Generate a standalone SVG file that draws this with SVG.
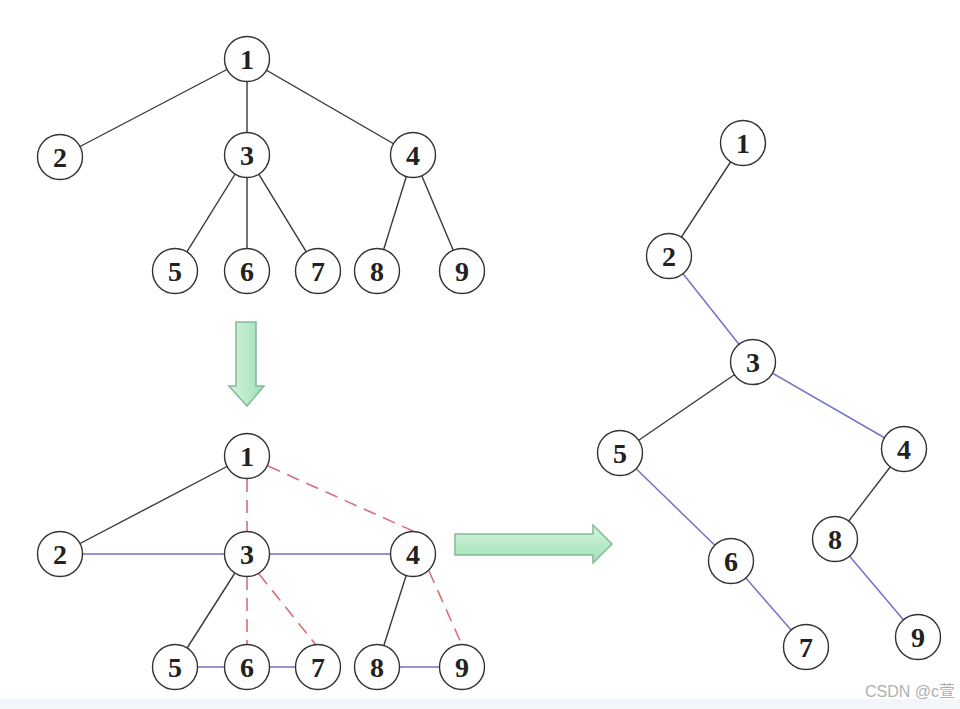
<svg xmlns="http://www.w3.org/2000/svg" width="960" height="709" viewBox="0 0 960 709">
<style>
.n circle{fill:#fff;stroke:#333;stroke-width:1.4}
.n text{font-family:"Liberation Serif","DejaVu Serif",serif;font-size:28px;font-weight:bold;fill:#222;text-anchor:middle;dominant-baseline:central}
.k{stroke:#3a3a3a;stroke-width:1.4;fill:none}
.b{stroke:#7272c8;stroke-width:1.5;fill:none}
.r{stroke:#d86f7c;stroke-width:1.6;stroke-dasharray:13 8;fill:none}
.ga{fill:url(#g);stroke:#86b896;stroke-width:1.5}
</style>
<defs>
<linearGradient id="g" x1="0" y1="0" x2="0" y2="1">
<stop offset="0" stop-color="#d4f5dc"/>
<stop offset="1" stop-color="#9fe0b6"/>
</linearGradient>
<linearGradient id="gv" x1="0" y1="0" x2="1" y2="0">
<stop offset="0" stop-color="#d4f5dc"/>
<stop offset="1" stop-color="#9fe0b6"/>
</linearGradient>
</defs>
<rect width="960" height="709" fill="#fff"/>
<rect x="0" y="699" width="960" height="10" fill="#f2f6fb"/>
<g id="connectors">
<line class="k" x1="247" y1="59" x2="60" y2="157"/>
<line class="k" x1="247" y1="59" x2="247" y2="155"/>
<line class="k" x1="247" y1="59" x2="413" y2="155"/>
<line class="k" x1="247" y1="155" x2="175" y2="271"/>
<line class="k" x1="247" y1="155" x2="247" y2="271"/>
<line class="k" x1="247" y1="155" x2="318" y2="271"/>
<line class="k" x1="413" y1="155" x2="377" y2="271"/>
<line class="k" x1="413" y1="155" x2="462" y2="271"/>
<line class="k" x1="247" y1="456" x2="60" y2="554"/>
<line class="r" x1="247" y1="479" x2="247" y2="531"/>
<line class="r" x1="268" y1="466" x2="413" y2="531"/>
<line class="b" x1="60" y1="554" x2="247" y2="554"/>
<line class="b" x1="247" y1="554" x2="413" y2="554"/>
<line class="k" x1="247" y1="554" x2="175" y2="667"/>
<line class="r" x1="247" y1="577" x2="247" y2="644"/>
<line class="r" x1="259" y1="574" x2="316" y2="645"/>
<line class="k" x1="413" y1="554" x2="377" y2="667"/>
<line class="r" x1="429" y1="571" x2="462" y2="645"/>
<line class="b" x1="175" y1="667" x2="247" y2="667"/>
<line class="b" x1="247" y1="667" x2="318" y2="667"/>
<line class="b" x1="377" y1="667" x2="462" y2="667"/>
<line class="k" x1="743" y1="143" x2="669" y2="256"/>
<line class="b" x1="669" y1="256" x2="753" y2="362"/>
<line class="k" x1="753" y1="362" x2="620" y2="453"/>
<line class="b" x1="753" y1="362" x2="904" y2="449"/>
<line class="b" x1="620" y1="453" x2="731" y2="561"/>
<line class="b" x1="731" y1="561" x2="806" y2="647"/>
<line class="k" x1="904" y1="449" x2="835" y2="539"/>
<line class="b" x1="835" y1="539" x2="918" y2="637"/>
</g>
<g id="arrow-down"><path class="ga" style="fill:url(#gv)" d="M236,322 H256 V386 H264 L247,406 L229,386 H236 Z"/></g>
<g id="arrow-right"><path class="ga" d="M455,534 H593 V525 L612,544 L593,563 V555 H455 Z"/></g>
<g id="t1-1" class="n"><circle cx="247" cy="59" r="22.5"/><text x="247" y="59">1</text></g>
<g id="t1-2" class="n"><circle cx="60" cy="157" r="22.5"/><text x="60" y="157">2</text></g>
<g id="t1-3" class="n"><circle cx="247" cy="155" r="22.5"/><text x="247" y="155">3</text></g>
<g id="t1-4" class="n"><circle cx="413" cy="155" r="22.5"/><text x="413" y="155">4</text></g>
<g id="t1-5" class="n"><circle cx="175" cy="271" r="22.5"/><text x="175" y="271">5</text></g>
<g id="t1-6" class="n"><circle cx="247" cy="271" r="22.5"/><text x="247" y="271">6</text></g>
<g id="t1-7" class="n"><circle cx="318" cy="271" r="22.5"/><text x="318" y="271">7</text></g>
<g id="t1-8" class="n"><circle cx="377" cy="271" r="22.5"/><text x="377" y="271">8</text></g>
<g id="t1-9" class="n"><circle cx="462" cy="271" r="22.5"/><text x="462" y="271">9</text></g>
<g id="t2-1" class="n"><circle cx="247" cy="456" r="22.5"/><text x="247" y="456">1</text></g>
<g id="t2-2" class="n"><circle cx="60" cy="554" r="22.5"/><text x="60" y="554">2</text></g>
<g id="t2-3" class="n"><circle cx="247" cy="554" r="22.5"/><text x="247" y="554">3</text></g>
<g id="t2-4" class="n"><circle cx="413" cy="554" r="22.5"/><text x="413" y="554">4</text></g>
<g id="t2-5" class="n"><circle cx="175" cy="667" r="22.5"/><text x="175" y="667">5</text></g>
<g id="t2-6" class="n"><circle cx="247" cy="667" r="22.5"/><text x="247" y="667">6</text></g>
<g id="t2-7" class="n"><circle cx="318" cy="667" r="22.5"/><text x="318" y="667">7</text></g>
<g id="t2-8" class="n"><circle cx="377" cy="667" r="22.5"/><text x="377" y="667">8</text></g>
<g id="t2-9" class="n"><circle cx="462" cy="667" r="22.5"/><text x="462" y="667">9</text></g>
<g id="t3-1" class="n"><circle cx="743" cy="143" r="22.5"/><text x="743" y="143">1</text></g>
<g id="t3-2" class="n"><circle cx="669" cy="256" r="22.5"/><text x="669" y="256">2</text></g>
<g id="t3-3" class="n"><circle cx="753" cy="362" r="22.5"/><text x="753" y="362">3</text></g>
<g id="t3-5" class="n"><circle cx="620" cy="453" r="22.5"/><text x="620" y="453">5</text></g>
<g id="t3-4" class="n"><circle cx="904" cy="449" r="22.5"/><text x="904" y="449">4</text></g>
<g id="t3-8" class="n"><circle cx="835" cy="539" r="22.5"/><text x="835" y="539">8</text></g>
<g id="t3-6" class="n"><circle cx="731" cy="561" r="22.5"/><text x="731" y="561">6</text></g>
<g id="t3-7" class="n"><circle cx="806" cy="647" r="22.5"/><text x="806" y="647">7</text></g>
<g id="t3-9" class="n"><circle cx="918" cy="637" r="22.5"/><text x="918" y="637">9</text></g>
<text x="955" y="697" text-anchor="end" font-family="'Liberation Sans','Noto Sans CJK SC',sans-serif" font-size="16" fill="#b0b0b0">CSDN @c萱</text>
</svg>
